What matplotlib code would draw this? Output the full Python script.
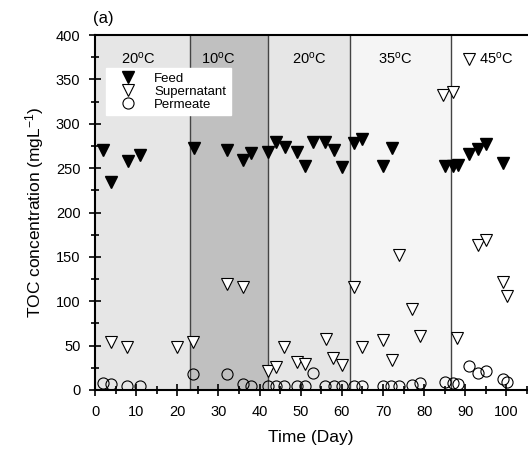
import matplotlib
matplotlib.use("Agg")
import matplotlib.pyplot as plt
from matplotlib.ticker import MultipleLocator

plt.rcParams['font.family'] = ['Liberation Sans', 'DejaVu Sans']
plt.rcParams['mathtext.fontset'] = 'custom'
plt.rcParams['mathtext.rm'] = 'Liberation Sans'
plt.rcParams['mathtext.it'] = 'Liberation Sans:italic'

# ---- data ----
feed_day = [1.9, 4, 7.9, 10.9, 24, 32, 36, 38, 42, 44.1, 46.1, 49, 51, 53, 56, 58, 60,
            62.9, 65, 70.1, 72.2, 85, 87, 88.2, 91, 93, 95, 99.1]
feed_toc = [270, 234, 258, 265, 273, 270, 259, 267, 268, 280, 274, 268, 252, 279, 279, 270, 251,
            278, 283, 252, 273, 252, 252, 253, 266, 272, 277, 256]

sup_day = [3.9, 7.8, 20, 23.9, 32, 36, 42, 44, 46, 49, 51, 56.1, 57.9, 60, 62.9, 65, 70.1,
           72.2, 74, 77.1, 79, 84.7, 87, 88, 93, 95, 99.1, 100.1]
sup_toc = [54, 49, 49, 54, 120, 116, 21, 26, 48, 32, 29, 58, 36, 28, 116, 48, 56,
           34, 152, 91, 61, 332, 336, 59, 163, 169, 122, 106]

perm_day = [1.9, 3.9, 7.8, 10.9, 23.9, 32, 36, 38, 42, 44, 46, 49, 51, 53, 56, 58, 60,
            62.9, 65, 70, 72, 74, 77, 79, 85, 87, 88.2, 91, 93, 95, 99.1, 100.1]
perm_toc = [7.5, 6.4, 4.5, 4.5, 17.7, 18, 6.8, 4.5, 4.5, 4.5, 4, 4.5, 4, 18.8, 4, 4, 5,
            4, 4, 4, 5, 5, 6, 7.5, 8.6, 7.5, 6.8, 27, 18.8, 21.8, 12.4, 9.4]

# temperature phases: (start day, end day, label)
phase_start = [0, 23, 42, 62, 86.5]
phase_end = [23, 42, 62, 86.5, 105]
phase_label = ["20$^{\\rm o}$C", "10$^{\\rm o}$C", "20$^{\\rm o}$C", "35$^{\\rm o}$C", "45$^{\\rm o}$C"]
phase_label_x = [10.5, 30, 52, 73, 97.6]
phase_color = ["#e6e6e6", "#c0c0c0", "#e6e6e6", "#f5f5f5", "#ffffff"]

fig = plt.figure(figsize=(5.28, 4.58), dpi=100)
ax = fig.add_axes([0.18, 0.1485, 0.818, 0.775])

for s, e, c in zip(phase_start, phase_end, phase_color):
    ax.axvspan(s, e, color=c, zorder=0, lw=0)
for b in phase_start[1:]:
    ax.axvline(b, color="#444444", lw=1.0, zorder=1)
for x, lab in zip(phase_label_x, phase_label):
    ax.text(x, 373, lab, ha="center", va="center", fontsize=10.5, zorder=3)
# the 45 C label carries a stray triangle in the original
ax.plot([90.8], [373], marker="v", ms=9, mfc="white", mec="black", mew=0.8, ls="none", zorder=3)

ms = 9
ax.plot(feed_day, feed_toc, "v", ms=ms, color="black", mec="black", ls="none", label="Feed", zorder=4)
ax.plot(sup_day, sup_toc, "v", ms=ms, mfc="white", mec="black", mew=0.8, ls="none",
        label="Supernatant", zorder=4)
ax.plot(perm_day, perm_toc, "o", ms=8, mfc="none", mec="black", mew=0.8, ls="none",
        label="Permeate", zorder=4)

leg = ax.legend(loc="upper left", bbox_to_anchor=(0.025, 0.907), fontsize=9.5, frameon=True,
                fancybox=False, edgecolor="white", framealpha=1, handletextpad=0.7,
                labelspacing=0.05, borderpad=0.35, handlelength=2.6, borderaxespad=0)
leg.set_zorder(5)

ax.set_xlim(0, 105)
ax.set_ylim(0, 400)
ax.xaxis.set_major_locator(MultipleLocator(10))
ax.xaxis.set_minor_locator(MultipleLocator(5))
ax.yaxis.set_major_locator(MultipleLocator(50))
ax.yaxis.set_minor_locator(MultipleLocator(25))
ax.set_xticks(range(0, 101, 10))
ax.tick_params(which="major", direction="inout", length=9, width=1.2, labelsize=10.5, pad=6)
ax.tick_params(which="minor", direction="inout", length=6, width=1.2)
for sp in ax.spines.values():
    sp.set_linewidth(1.5)
ax.spines["right"].set_visible(False)

ax.set_xlabel("Time (Day)", fontsize=12.5, labelpad=8)
ax.set_ylabel("TOC concentration (mgL$^{-1}$)", fontsize=12.5, labelpad=7)
fig.text(0.176, 0.96, "(a)", fontsize=12, ha="left", va="center")

fig.savefig("out.png", dpi=100)
